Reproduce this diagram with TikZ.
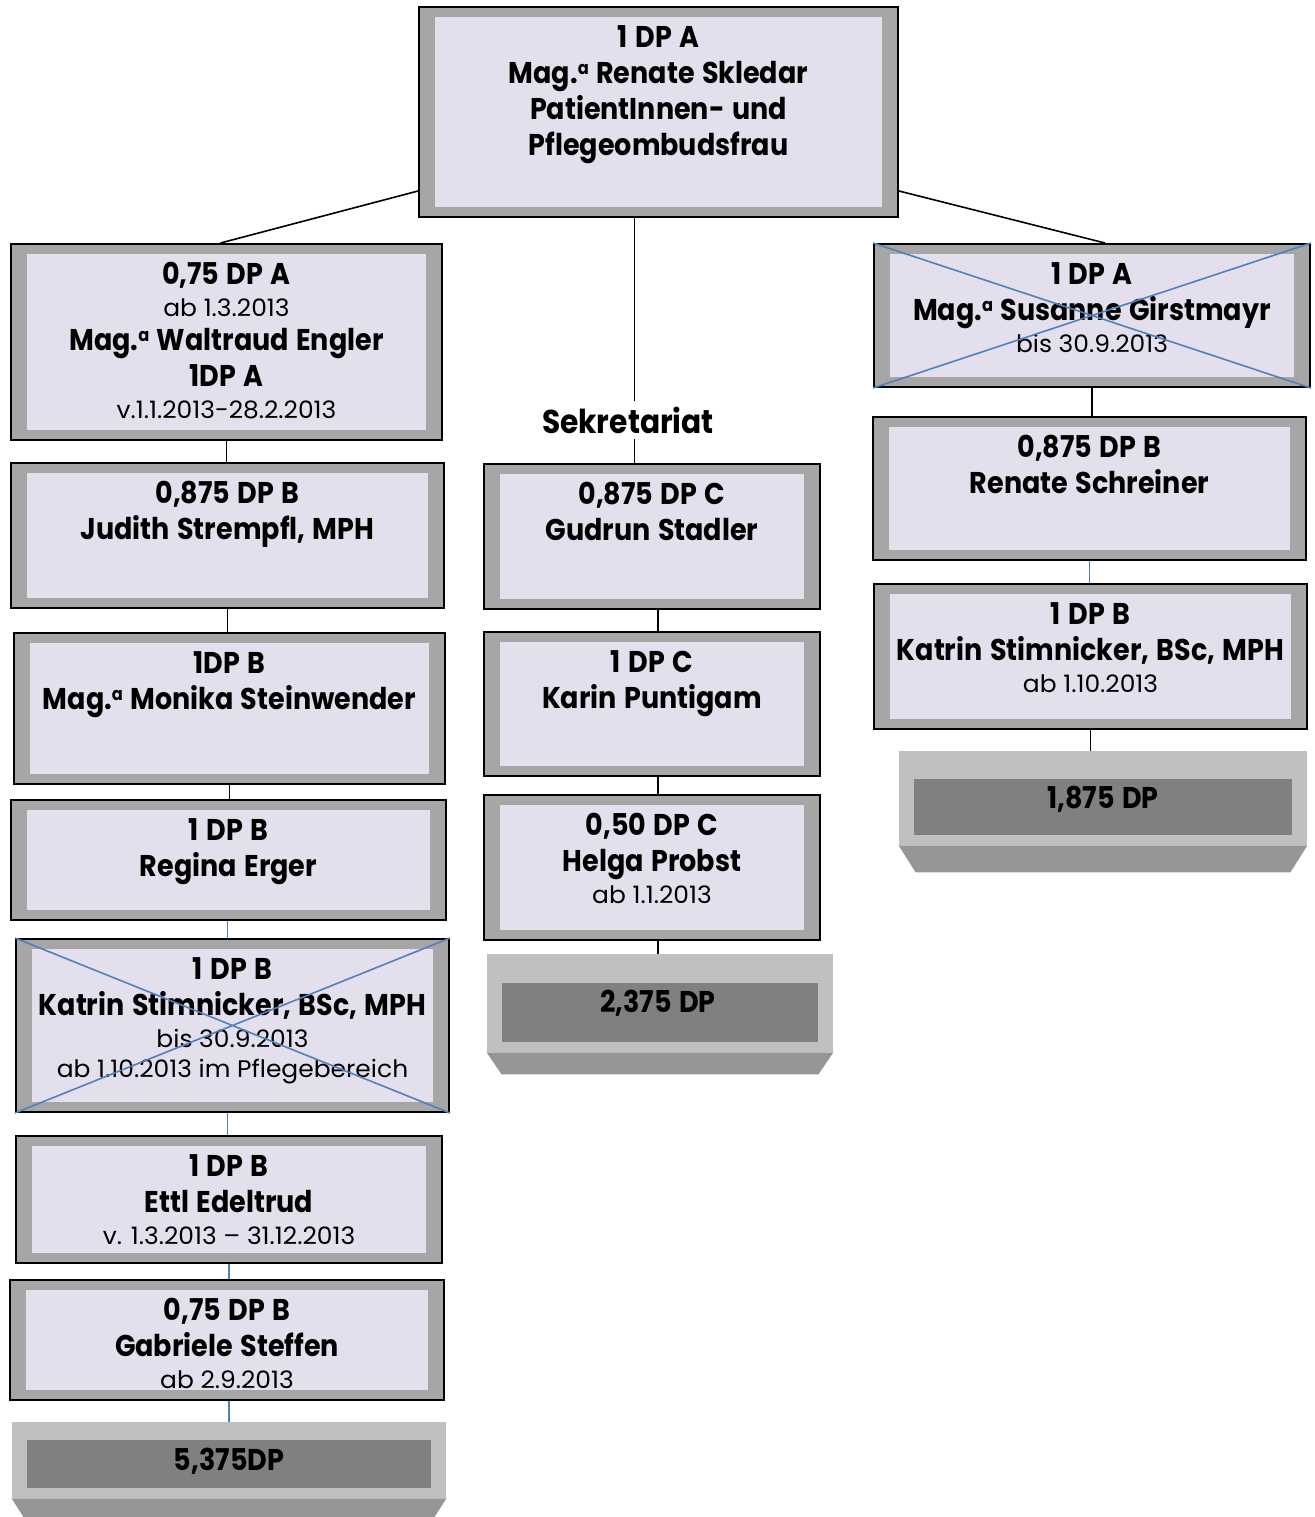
\documentclass[tikz,border=0pt]{standalone}
\usepackage{fontspec}
\setmainfont{Poppins}[FakeStretch=0.9, WordSpace=1.3]
\newfontfamily\smfont{Poppins}[FakeStretch=1.04]
\usepackage{xcolor}
\usepackage{tikz}
\usetikzlibrary{positioning,fit}

\definecolor{framegray}{HTML}{A6A6A6}
\definecolor{lavender}{HTML}{E4DFEC}
\definecolor{crossblue}{HTML}{4F81BD}
\definecolor{sumlight}{HTML}{BFBFBF}
\definecolor{sumdark}{HTML}{808080}
\definecolor{sumbevel}{HTML}{969696}

\newcommand{\sm}[1]{{\smfont\mdseries\fontsize{12}{15}\selectfont #1}}
\newcommand{\maga}{Mag.\raisebox{0.55ex}{\fontsize{9}{9}\selectfont a}}

\tikzset{
  dpbox/.style={draw=black, line width=1pt, fill=framegray, inner sep=0pt,
    path picture={\fill[lavender] ([xshift=8pt,yshift=5pt]path picture bounding box.south west)
      rectangle ([xshift=-8pt,yshift=-5pt]path picture bounding box.north east);}},
  dptext/.style={align=center, inner sep=0pt, font=\bfseries\fontsize{15}{18}\selectfont},
  sumtop/.store in=\sumtop, sumtop=14pt,
  dpsum/.style={fill=sumlight, inner sep=0pt,
    path picture={\fill[sumdark] ([xshift=7.5pt,yshift=5pt]path picture bounding box.south west)
      rectangle ([xshift=-7.5pt,yshift=-\sumtop]path picture bounding box.north east);}},
  link/.style={line width=0.8pt, black},
  bluelink/.style={line width=0.8pt, crossblue},
  cross/.style={line width=0.8pt, crossblue}
}

\begin{document}
\begin{tikzpicture}[x=0.5pt, y=-0.5pt]

    \useasboundingbox (0,0) rectangle (1314,1517);

    % top
    \node[dpbox, fit={(419,7) (898,217)}] (top) {};
    \node[dptext, below=9.5pt of top.north] (top-t) {1 DP A\\ \maga{} Renate Skledar\\ PatientInnen- und\\ Pflegeombudsfrau};

    % left column
    \node[dpbox, fit={(11,244) (442,440)}] (l1) {};
    \node[dptext, below=9.5pt of l1.north] (l1-t) {0,75 DP A\\[-2pt] \sm{ab 1.3.2013}\\[-1pt] \maga{} Waltraud Engler\\ 1DP A\\[-2pt] \sm{v.1.1.2013-28.2.2013}};
    \node[dpbox, fit={(11,463) (444,608)}] (l2) {};
    \node[dptext, below=9.5pt of l2.north] (l2-t) {0,875 DP B\\ Judith Strempfl, MPH};
    \node[dpbox, fit={(14,633) (445,784)}] (l3) {};
    \node[dptext, below=9.5pt of l3.north] (l3-t) {1DP B\\ \maga{} Monika Steinwender};
    \node[dpbox, fit={(11,800) (446,920)}] (l4) {};
    \node[dptext, below=9.5pt of l4.north] (l4-t) {1 DP B\\ Regina Erger};
    \node[dpbox, fit={(16,939) (449,1112)}] (l5) {};
    \node[dptext, below=9.5pt of l5.north] (l5-t) {1 DP B\\ Katrin Stimnicker, BSc, MPH\\[-2pt] \sm{bis 30.9.2013}\\[-3pt] \sm{ab 1.10.2013 im Pflegebereich}};
    \node[dpbox, fit={(16,1136) (442,1263)}] (l6) {};
    \node[dptext, below=9.5pt of l6.north] (l6-t) {1 DP B\\ Ettl Edeltrud\\[-2pt] \sm{v. 1.3.2013 – 31.12.2013}};
    \node[dpbox, fit={(10,1280) (444,1400)}] (l7) {};
    \node[dptext, below=9.5pt of l7.north] (l7-t) {0,75 DP B\\ Gabriele Steffen\\[-2pt] \sm{ab 2.9.2013}};
    \node[dpsum, sumtop=9pt, fit={(12,1422) (446,1498)}] (l8) {};
    \node[dptext] (l8-t) at (229,1461) {5,375DP};

    % middle column
    \node[dpbox, fit={(484,464) (820,609)}] (m1) {};
    \node[dptext, below=9.5pt of m1.north] (m1-t) {0,875 DP C\\ Gudrun Stadler};
    \node[dpbox, fit={(484,632) (820,776)}] (m2) {};
    \node[dptext, below=9.5pt of m2.north] (m2-t) {1 DP C\\ Karin Puntigam};
    \node[dpbox, fit={(484,795) (820,940)}] (m3) {};
    \node[dptext, below=9.5pt of m3.north] (m3-t) {0,50 DP C\\ Helga Probst\\[-2pt] \sm{ab 1.1.2013}};
    \node[dpsum, sumtop=14.5pt, fit={(487,954) (833,1052)}] (m4) {};
    \node[dptext] (m4-t) at (658,1003) {2,375 DP};

    % right column
    \node[dpbox, fit={(874,244) (1310,387)}] (r1) {};
    \node[dptext, below=9.5pt of r1.north] (r1-t) {1 DP A\\ \maga{} Susanne Girstmayr\\[-2pt] \sm{bis 30.9.2013}};
    \node[dpbox, fit={(873,417) (1306,560)}] (r2) {};
    \node[dptext, below=9.5pt of r2.north] (r2-t) {0,875 DP B\\ Renate Schreiner};
    \node[dpbox, fit={(874,584) (1307,729)}] (r3) {};
    \node[dptext, below=9.5pt of r3.north] (r3-t) {1 DP B\\ Katrin Stimnicker, BSc, MPH\\[-2pt] \sm{ab 1.10.2013}};
    \node[dpsum, fit={(899,751) (1307,845)}] (r4) {};
    \node[dptext] (r4-t) at (1103,799) {1,875 DP};

    % bevels under the sums
    \fill[sumbevel] (l8.south west) -- (l8.south east) -- ([xshift=-8pt,yshift=-12.5pt]l8.south east) -- ([xshift=8pt,yshift=-12.5pt]l8.south west) -- cycle;
    \fill[sumbevel] (m4.south west) -- (m4.south east) -- ([xshift=-7.5pt,yshift=-11pt]m4.south east) -- ([xshift=7.5pt,yshift=-11pt]m4.south west) -- cycle;
    \fill[sumbevel] (r4.south west) -- (r4.south east) -- ([xshift=-8.5pt,yshift=-13.5pt]r4.south east) -- ([xshift=8.5pt,yshift=-13.5pt]r4.south west) -- cycle;

    % crossed out
    \draw[cross] (l5.north west) -- (l5.south east) (l5.south west) -- (l5.north east);
    \draw[cross] (r1.north west) -- (r1.south east) (r1.south west) -- (r1.north east);

    % lines
    \draw[link] ([yshift=13.5pt]top.south west) -- ([xshift=-3pt]l1.north);
    \draw[link] ([yshift=13.5pt]top.south east) -- ([xshift=6.5pt]r1.north);
    \draw[link] ([xshift=-12pt]top.south) -- ([xshift=-12pt]top.south |- m1.north);
    \node[fill=white, inner sep=3pt, font=\bfseries\fontsize{16.5}{20}\selectfont] (sekr) at (628,420) {Sekretariat};

    \draw[link] (l1.south) -- (l1.south |- l2.north);
    \draw[link] (l2.south) -- (l2.south |- l3.north);
    \draw[link] (l3.south) -- (l3.south |- l4.north);
    \draw[bluelink] ([xshift=-0.5pt]l4.south) -- ([xshift=-0.5pt]l4.south |- l5.north);
    \draw[bluelink] ([xshift=-2.5pt]l5.south) -- ([xshift=-2.5pt]l5.south |- l6.north);
    \draw[bluelink] (l6.south) -- (l6.south |- l7.north);
    \draw[bluelink] ([xshift=1pt]l7.south) -- ([xshift=1pt]l7.south |- l8.north);

    \draw[link] ([xshift=3pt]m1.south) -- ([xshift=3pt]m1.south |- m2.north);
    \draw[link] ([xshift=3pt]m2.south) -- ([xshift=3pt]m2.south |- m3.north);
    \draw[link] ([xshift=3pt]m3.south) -- ([xshift=3pt]m3.south |- m4.north);

    \draw[link] (r1.south) -- (r1.south |- r2.north);
    \draw[bluelink] (r2.south) -- (r2.south |- r3.north);
    \draw[link] (r3.south) -- (r3.south |- r4.north);

\end{tikzpicture}
\end{document}
